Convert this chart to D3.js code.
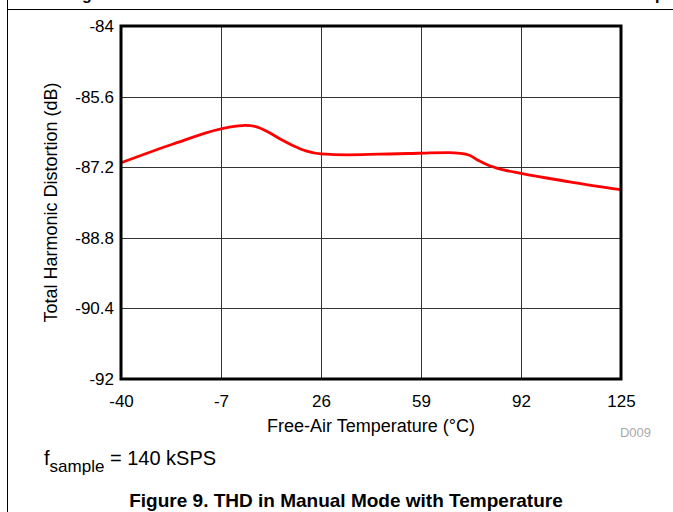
<!DOCTYPE html>
<html><head><meta charset="utf-8">
<script src="https://cdn.jsdelivr.net/npm/d3@7"></script>
<style>body{margin:0;background:#fff}svg{display:block;font-family:Arial,"Liberation Sans",sans-serif}</style>
</head><body>
<svg id="c" width="673" height="512"></svg>
<script>
const temps = [-40, -23, -7, -2, 1, 5, 9, 13, 17, 21, 26, 35, 45, 55, 62, 68, 72, 75, 78, 81, 84, 92, 108, 125];
const thd   = [-87.10, -86.68, -86.33, -86.27, -86.25, -86.29, -86.42, -86.58, -86.72, -86.83, -86.90, -86.92, -86.905, -86.89, -86.875, -86.87, -86.885, -86.93, -87.05, -87.15, -87.22, -87.34, -87.53, -87.71];
const xTicks = [-40, -7, 26, 59, 92, 125];
const yTicks = [-84, -85.6, -87.2, -88.8, -90.4, -92];

const svg = d3.select("#c");
const L = 121, R = 621, T = 26, B = 379;
const x = d3.scaleLinear().domain([-40, 125]).range([L, R]);
const y = d3.scaleLinear().domain([-92, -84]).range([B, T]);

// page frame lines
svg.append("line").attr("x1", 7.5).attr("x2", 7.5).attr("y1", 0).attr("y2", 512).attr("stroke", "#000").attr("stroke-width", 1);
svg.append("line").attr("x1", 7.5).attr("x2", 673).attr("y1", 9.5).attr("y2", 9.5).attr("stroke", "#000").attr("stroke-width", 1);
// fragments of the previous caption (clipped at the top edge)
svg.append("text").attr("x", 82).attr("y", 0).attr("font-size", 16).attr("font-weight", "bold").text("g");
svg.append("text").attr("x", 655).attr("y", 0).attr("font-size", 16).attr("font-weight", "bold").text("p");

// grid
svg.append("g").selectAll("line").data(xTicks).join("line")
  .attr("x1", d => Math.round(x(d)) + 0.5).attr("x2", d => Math.round(x(d)) + 0.5)
  .attr("y1", T).attr("y2", B).attr("stroke", "#333").attr("stroke-width", 1);
svg.append("g").selectAll("line").data(yTicks).join("line")
  .attr("y1", d => Math.round(y(d)) + 0.5).attr("y2", d => Math.round(y(d)) + 0.5)
  .attr("x1", L).attr("x2", R).attr("stroke", "#333").attr("stroke-width", 1);

// axes (labels via d3 axes)
const xa = svg.append("g").attr("transform", `translate(0,${B})`)
  .call(d3.axisBottom(x).tickValues(xTicks).tickSize(0).tickPadding(16).tickFormat(d => String(d)));
const ya = svg.append("g").attr("transform", `translate(${L},0)`)
  .call(d3.axisLeft(y).tickValues(yTicks).tickSize(0).tickPadding(7).tickFormat(d => String(d)));
[xa, ya].forEach(a => {
  a.select(".domain").remove();
  a.selectAll("text").attr("font-size", 17).attr("fill", "#000").attr("font-family", "Arial, 'Liberation Sans', sans-serif");
});

// curve
const line = d3.line().x((d, i) => x(temps[i])).y(d => y(d)).curve(d3.curveMonotoneX);
svg.append("path").datum(thd).attr("d", line).attr("fill", "none").attr("stroke", "#ff0000").attr("stroke-width", 2.8);

// thick border
svg.append("rect").attr("x", L).attr("y", T).attr("width", R - L).attr("height", B - T)
  .attr("fill", "none").attr("stroke", "#000").attr("stroke-width", 3);

// labels
svg.append("text").attr("x", (L + R) / 2).attr("y", 432).attr("text-anchor", "middle").attr("font-size", 18).text("Free-Air Temperature (°C)");
svg.append("text").attr("transform", `translate(57,${(T + B) / 2}) rotate(-90)`).attr("text-anchor", "middle").attr("font-size", 18).text("Total Harmonic Distortion (dB)");
svg.append("text").attr("x", 651).attr("y", 437).attr("text-anchor", "end").attr("font-size", 13).attr("fill", "#aaa").text("D009");

const f = svg.append("text").attr("x", 44).attr("y", 465).attr("font-size", 20);
f.append("tspan").text("f");
f.append("tspan").attr("dy", 7).attr("font-size", 17).text("sample");
f.append("tspan").attr("dy", -7).text(" = 140 kSPS");

svg.append("text").attr("x", 346).attr("y", 507).attr("text-anchor", "middle").attr("font-size", 19).attr("font-weight", "bold").text("Figure 9. THD in Manual Mode with Temperature");
</script>
</body></html>
